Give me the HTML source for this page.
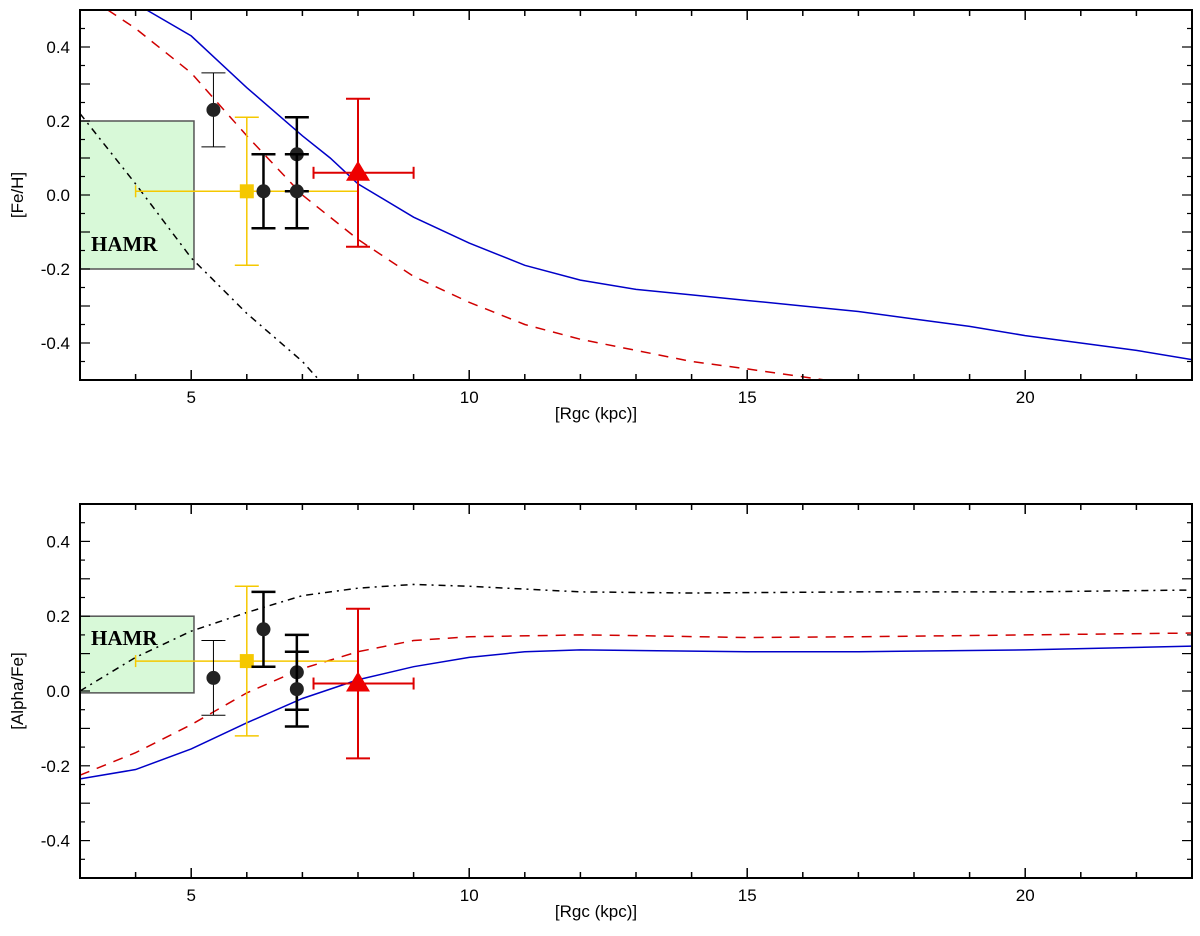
<!DOCTYPE html>
<html><head><meta charset="utf-8"><style>
body{margin:0;background:#fff}
svg{display:block;font-family:"Liberation Sans",sans-serif}
</style></head><body>
<svg id="c" width="1200" height="936"></svg>
<script>
const xTicks=[5,10,15,20];
const yTicks=[0.4,0.2,0.0,-0.2,-0.4];
const yTickLabels=["0.4","0.2","0.0","-0.2","-0.4"];
const feBlueX=[4.2,5,5.5,6,7,7.5,8,9,10,11,12,13,14,15,16,17,18,19,20,21,22,23];
const feBlueY=[0.5,0.43,0.36,0.29,0.16,0.1,0.03,-0.06,-0.13,-0.19,-0.23,-0.255,-0.27,-0.285,-0.3,-0.315,-0.335,-0.355,-0.38,-0.4,-0.42,-0.445];
const feRedX=[3.5,4,5,6,7,8,9,10,11,12,13,14,15,16.4];
const feRedY=[0.5,0.45,0.33,0.16,0.0,-0.12,-0.22,-0.29,-0.35,-0.39,-0.42,-0.45,-0.47,-0.5];
const feBlackX=[3,4,5,6,7,7.3];
const feBlackY=[0.22,0.03,-0.17,-0.32,-0.45,-0.5];
const feObsX=[5.4,6.3,6.9,6.9];
const feObsY=[0.23,0.01,0.11,0.01];
const feYellow=[6,0.01];
const feRedTri=[8,0.06];
const afBlueX=[3,4,5,6,7,8,9,10,11,12,15,17,20,23];
const afBlueY=[-0.235,-0.21,-0.155,-0.085,-0.02,0.03,0.065,0.09,0.105,0.11,0.105,0.105,0.11,0.12];
const afRedX=[3,4,5,6,7,8,9,10,12,13,15,17,20,23];
const afRedY=[-0.225,-0.165,-0.09,-0.005,0.06,0.105,0.135,0.145,0.15,0.148,0.143,0.145,0.15,0.155];
const afBlackX=[3,4,5,6,7,8,9,10,12,14,17,20,23];
const afBlackY=[0.0,0.09,0.16,0.21,0.255,0.275,0.285,0.28,0.265,0.262,0.265,0.265,0.27];
const afObsX=[5.4,6.3,6.9,6.9];
const afObsY=[0.035,0.165,0.05,0.005];
const afYellow=[6,0.08];
const afRedTri=[8,0.02];

const NS="http://www.w3.org/2000/svg";
const svg=document.getElementById('c');
function mk(t,a,p){const e=document.createElementNS(NS,t);for(const k in a)e.setAttribute(k,a[k]);(p||svg).appendChild(e);return e;}
const X0=80,X1=1192;
const sx=v=>X0+(v-3)/20*(X1-X0);

function panel(name,top,bot,title,blueX,blueY,redX,redY,blkX,blkY,obsX,obsY,yel,tri,hamrY,hamrLo){
  const g=mk('g',{});
  
  
  const sy=v=>top+(0.5-v)*(bot-top);
  const cp='clip-'+name;
  const cl=mk('clipPath',{id:cp},g);mk('rect',{x:X0,y:top,width:X1-X0,height:bot-top},cl);
  const hb=mk('rect',{x:sx(3),y:sy(0.2),width:sx(5.05)-sx(3),height:sy(hamrLo)-sy(0.2),fill:'#d8f9d8',stroke:'#555','stroke-width':1.5},g);
  
  
  const ht=mk('text',{x:sx(3)+11,y:hamrY,'font-family':'"Liberation Serif",serif','font-size':21,'font-weight':'bold'},g);ht.textContent='HAMR';
  
  
  const lines=[[blueX,blueY,'#0000c8','none','blue-model-line',1.5],[redX,redY,'#d00000','10,8','red-model-line',1.5],[blkX,blkY,'#000','7,5,2,5','black-model-line',1.5]];
  for(const [xs,ys,c,d,n,w] of lines){
    const p=mk('polyline',{points:xs.map((v,i)=>sx(v)+','+sy(ys[i])).join(' '),fill:'none',stroke:c,'stroke-width':w,'stroke-dasharray':d,'clip-path':`url(#${cp})`},g);
    
    
  }
  function ebar(x,y,dy,x0,x1,col,w,cap,n){
    const e=mk('g',{stroke:col,'stroke-width':w},g);
    
    
    mk('line',{x1:sx(x),x2:sx(x),y1:sy(y+dy),y2:sy(y-dy)},e);
    mk('line',{x1:sx(x)-cap,x2:sx(x)+cap,y1:sy(y+dy),y2:sy(y+dy)},e);
    mk('line',{x1:sx(x)-cap,x2:sx(x)+cap,y1:sy(y-dy),y2:sy(y-dy)},e);
    if(x0!=null){mk('line',{x1:sx(x0),x2:sx(x1),y1:sy(y),y2:sy(y)},e);
      mk('line',{x1:sx(x0),x2:sx(x0),y1:sy(y)-6,y2:sy(y)+6},e);mk('line',{x1:sx(x1),x2:sx(x1),y1:sy(y)-6,y2:sy(y)+6},e);}
    return e;
  }
  ebar(yel[0],yel[1],0.2,4,8,'#f5c800',1.5,12,'yellow-errorbar');
  const ys=mk('rect',{x:sx(yel[0])-7,y:sy(yel[1])-7,width:14,height:14,fill:'#f5c800'},g);
  
  
  obsX.forEach((x,i)=>{
    ebar(x,obsY[i],0.1,null,null,'#000',i==0?1:2.5,12,'black-errorbar');
    const c=mk('circle',{cx:sx(x),cy:sy(obsY[i]),r:7,fill:'#222'},g);
    
    
  });
  ebar(tri[0],tri[1],0.2,7.2,9,'#dd0000',2,12,'red-errorbar');
  const tx=sx(tri[0]),ty=sy(tri[1]);
  const t=mk('polygon',{points:`${tx-12},${ty+8} ${tx+12},${ty+8} ${tx},${ty-12}`,fill:'#ee0000'},g);
  
  
  mk('rect',{x:X0,y:top,width:X1-X0,height:bot-top,fill:'none',stroke:'#000','stroke-width':2},g);
  for(let v=4;v<=22;v++){const L=v%5==0?10:6;
    mk('line',{x1:sx(v),x2:sx(v),y1:bot,y2:bot-L,stroke:'#000','stroke-width':1.5},g);
    mk('line',{x1:sx(v),x2:sx(v),y1:top,y2:top+L,stroke:'#000','stroke-width':1.5},g);}
  for(let k=-9;k<=9;k++){const v=k*0.05;const L=k%2==0?10:5;
    mk('line',{x1:X0,x2:X0+L,y1:sy(v),y2:sy(v),stroke:'#000','stroke-width':1.2},g);
    mk('line',{x1:X1,x2:X1-L,y1:sy(v),y2:sy(v),stroke:'#000','stroke-width':1.2},g);}
  xTicks.forEach(v=>{const t=mk('text',{x:sx(v),y:bot+23,'text-anchor':'middle','font-size':17},g);t.textContent=v;
    
    });
  yTicks.forEach((v,i)=>{const t=mk('text',{x:70,y:sy(v)+6,'text-anchor':'end','font-size':17},g);t.textContent=yTickLabels[i];
    
    });
  const xt=mk('text',{x:(X0+X1)/2-40,y:bot+39,'text-anchor':'middle','font-size':17},g);xt.textContent='[Rgc (kpc)]';
  
  
  const yt=mk('text',{x:0,y:0,'text-anchor':'middle','font-size':17,transform:`translate(23,${sy(0)}) rotate(-90)`},g);yt.textContent=title;
  
  
}
panel('fe-h-panel',10,380,'[Fe/H]',feBlueX,feBlueY,feRedX,feRedY,feBlackX,feBlackY,feObsX,feObsY,feYellow,feRedTri,251,-0.2);
panel('alpha-fe-panel',504,878,'[Alpha/Fe]',afBlueX,afBlueY,afRedX,afRedY,afBlackX,afBlackY,afObsX,afObsY,afYellow,afRedTri,645,-0.005);
</script>
</body></html>
